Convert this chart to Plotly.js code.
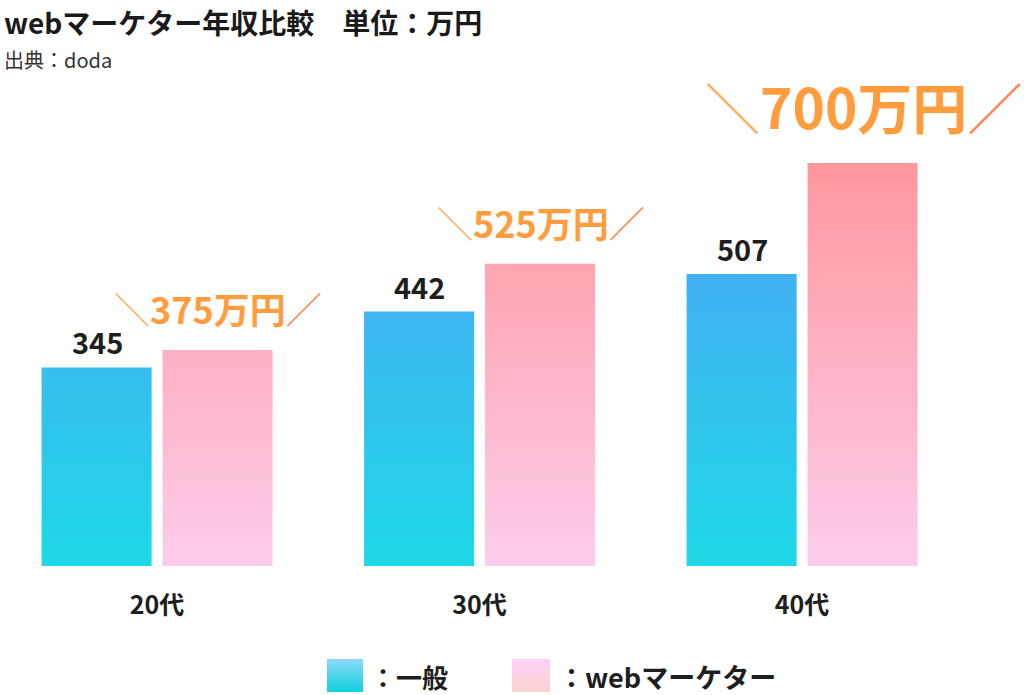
<!DOCTYPE html>
<html>
<head>
<meta charset="utf-8">
<script src="https://cdn.plot.ly/plotly-3.0.1.min.js"></script>
<style>
  html, body { margin: 0; padding: 0; background: #ffffff; }
  #chart { width: 1024px; height: 695px; }
</style>
</head>
<body>
<div id="chart"></div>
<script>
// ---- data ----
const categories = ['20代', '30代', '40代'];
const generalValues = [345, 442, 507];
const webMarketerValues = [375, 525, 700];
const seriesNames = ['一般', 'webマーケター'];
const unitLabel = '万円';
const chartTitle = 'webマーケター年収比較　単位：万円';
const sourceLabel = '出典：doda';

// ---- styles ----
const FONT = '"Noto Sans CJK JP", "Noto Sans", sans-serif';
const maxVal = Math.max(...webMarketerValues);
const yTop = maxVal * 566 / 403;

const traces = [
  {
    type: 'bar', name: seriesNames[0], x: categories, y: generalValues,
    marker: { color: '#33bdf0', line: { width: 0 } },
    hoverinfo: 'skip'
  },
  {
    type: 'bar', name: seriesNames[1], x: categories, y: webMarketerValues,
    marker: { color: '#feb4c8', line: { width: 0 } },
    hoverinfo: 'skip'
  }
];

const annotations = [];
// value labels for 一般
generalValues.forEach((v, i) => {
  annotations.push({
    x: categories[i], y: v, xref: 'x', yref: 'y',
    text: String(v), showarrow: false,
    xanchor: 'center', yanchor: 'bottom', xshift: -60, yshift: 3,
    font: { family: FONT, size: 29, color: '#1e1e1e', weight: 'bold' }
  });
});
// value labels for webマーケター
webMarketerValues.forEach((v, i) => {
  const big = v === maxVal;
  annotations.push({
    x: categories[i], y: v, xref: 'x', yref: 'y',
    text: '<span style="font-weight:normal;color:#ffae5e">＼</span>' + v + unitLabel +
          '<span style="font-weight:normal;color:#ff8452">／</span>',
    showarrow: false,
    xanchor: 'center', yanchor: 'bottom', xshift: 61, yshift: big ? 16 : 14,
    font: { family: FONT, size: big ? 55 : 36, color: '#ff9d3e', weight: 'bold' }
  });
});
// title & source
annotations.push({
  xref: 'paper', yref: 'paper', x: 0.002, y: (566 - 0) / 566,
  xanchor: 'left', yanchor: 'top', showarrow: false, text: chartTitle,
  font: { family: FONT, size: 28, color: '#1a1a1a', weight: 'bold' }
});
annotations.push({
  xref: 'paper', yref: 'paper', x: 0.002, y: (566 - 43) / 566,
  xanchor: 'left', yanchor: 'top', showarrow: false, text: sourceLabel,
  font: { family: FONT, size: 20, color: '#333333' }
});
// custom legend texts
annotations.push({
  xref: 'paper', yref: 'paper', x: 368 / 1024, y: (566 - 676) / 566,
  xanchor: 'left', yanchor: 'middle', showarrow: false, text: '：' + seriesNames[0],
  font: { family: FONT, size: 26, color: '#1e1e1e', weight: 'bold' }
});
annotations.push({
  xref: 'paper', yref: 'paper', x: 556 / 1024, y: (566 - 676) / 566,
  xanchor: 'left', yanchor: 'middle', showarrow: false, text: '：' + seriesNames[1],
  font: { family: FONT, size: 27, color: '#1e1e1e', weight: 'bold' }
});

const shapes = [
  { type: 'rect', xref: 'paper', yref: 'paper', x0: 327 / 1024, x1: 363 / 1024,
    y0: (566 - 692) / 566, y1: (566 - 659) / 566, fillcolor: '#5ad6f0', line: { width: 0 } },
  { type: 'rect', xref: 'paper', yref: 'paper', x0: 512 / 1024, x1: 550 / 1024,
    y0: (566 - 692) / 566, y1: (566 - 659) / 566, fillcolor: '#fdd0e4', line: { width: 0 } }
];

const layout = {
  width: 1024, height: 695,
  margin: { l: 0, r: 0, t: 0, b: 129 },
  paper_bgcolor: '#ffffff', plot_bgcolor: '#ffffff',
  showlegend: false,
  barmode: 'group', bargap: 0.25, bargroupgap: 0.09,
  xaxis: {
    type: 'category', range: [-0.487, 2.688],
    showgrid: false, zeroline: false, showline: false, ticks: '',
    ticklabelstandoff: 22,
    tickfont: { family: FONT, size: 25, color: '#1e1e1e', weight: 'bold' },
    fixedrange: true
  },
  yaxis: { visible: false, range: [0, yTop], fixedrange: true },
  annotations: annotations,
  shapes: shapes,
  font: { family: FONT }
};

const gd = document.getElementById('chart');

function makeGradient(defs, id, stops, user, y1, y2) {
  const NS = 'http://www.w3.org/2000/svg';
  const g = document.createElementNS(NS, 'linearGradient');
  g.setAttribute('id', id);
  g.setAttribute('x1', '0'); g.setAttribute('x2', '0');
  if (user) {
    g.setAttribute('gradientUnits', 'userSpaceOnUse');
    g.setAttribute('y1', String(y1)); g.setAttribute('y2', String(y2));
  } else {
    g.setAttribute('y1', '0'); g.setAttribute('y2', '1');
  }
  stops.forEach(([off, col]) => {
    const s = document.createElementNS(NS, 'stop');
    s.setAttribute('offset', off);
    s.setAttribute('stop-color', col);
    g.appendChild(s);
  });
  defs.appendChild(g);
}

function applyGradients() {
  const svg = gd.querySelector('svg.main-svg');
  let defs = svg.querySelector('defs');
  if (!defs) { defs = document.createElementNS('http://www.w3.org/2000/svg', 'defs'); svg.insertBefore(defs, svg.firstChild); }
  const ya = gd._fullLayout.yaxis;
  const pTop = ya.c2p(maxVal), pBot = ya.c2p(0);
  makeGradient(defs, 'gBlue', [['0', '#4fa1f8'], ['1', '#1ed8e6']], true, pTop, pBot);
  makeGradient(defs, 'gPink', [['0', '#ff979e'], ['1', '#fdcdec']], true, pTop, pBot);
  makeGradient(defs, 'lBlue', [['0', '#90d9fa'], ['1', '#0fcfde']], false);
  makeGradient(defs, 'lPink', [['0', '#fdd0f8'], ['1', '#fbd3cf']], false);
  const ids = ['gBlue', 'gPink'];
  gd.querySelectorAll('.barlayer .trace').forEach((t, i) => {
    t.querySelectorAll('path').forEach(p => { p.style.fill = 'url(#' + ids[i] + ')'; });
  });
  const lids = ['lBlue', 'lPink'];
  gd.querySelectorAll('.shapelayer path').forEach((p, i) => {
    if (lids[i]) p.style.fill = 'url(#' + lids[i] + ')';
  });
}

Plotly.newPlot(gd, traces, layout, { displayModeBar: false, staticPlot: true }).then(applyGradients);
</script>
</body>
</html>
